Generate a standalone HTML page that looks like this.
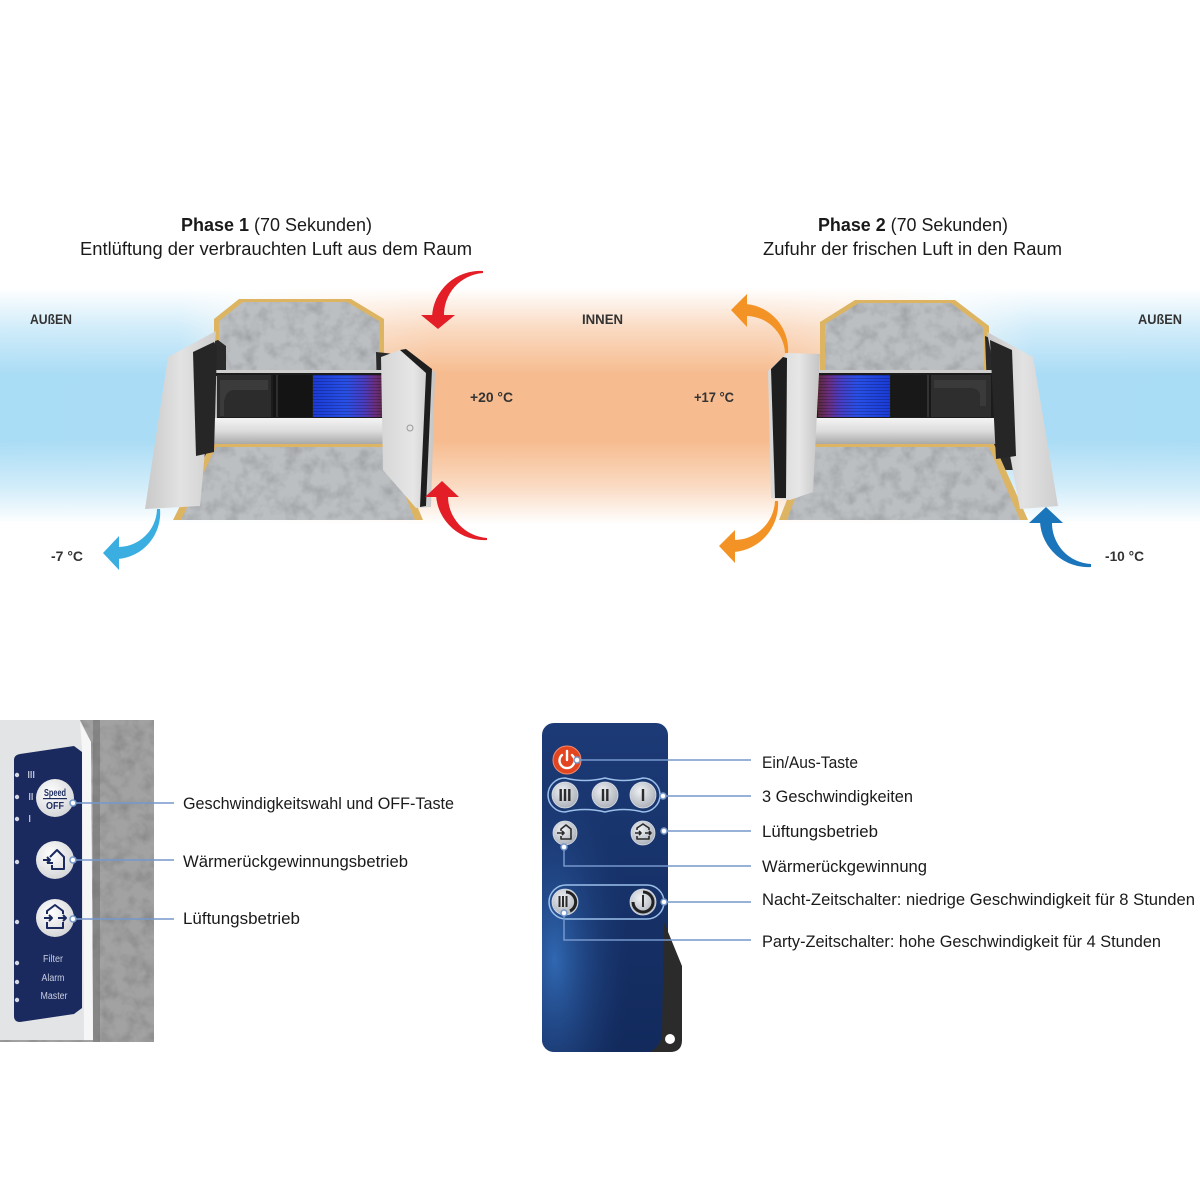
<!DOCTYPE html>
<html><head><meta charset="utf-8"><style>html,body{margin:0;padding:0;background:#fff}svg{display:block}</style></head>
<body>
<svg width="1200" height="1200" viewBox="0 0 1200 1200" xmlns="http://www.w3.org/2000/svg" font-family="'Liberation Sans', sans-serif">
<defs>
 <linearGradient id="bandH" x1="0" y1="0" x2="1200" y2="0" gradientUnits="userSpaceOnUse">
  <stop offset="0" stop-color="#a9dcf5"/>
  <stop offset="0.15" stop-color="#aadcf5"/>
  <stop offset="0.2" stop-color="#d6ebf3"/>
  <stop offset="0.3" stop-color="#f7c9a5"/>
  <stop offset="0.36" stop-color="#f6bb8e"/>
  <stop offset="0.64" stop-color="#f6bb8e"/>
  <stop offset="0.72" stop-color="#f7d0b0"/>
  <stop offset="0.8" stop-color="#d4ebf5"/>
  <stop offset="0.86" stop-color="#aadcf5"/>
  <stop offset="1" stop-color="#a9dcf5"/>
 </linearGradient>
 <linearGradient id="bandV" x1="0" y1="280" x2="0" y2="540" gradientUnits="userSpaceOnUse">
  <stop offset="0" stop-color="#000"/>
  <stop offset="0.03" stop-color="#000"/>
  <stop offset="0.19" stop-color="#8c8c8c"/>
  <stop offset="0.365" stop-color="#fff"/>
  <stop offset="0.615" stop-color="#fff"/>
  <stop offset="0.79" stop-color="#8c8c8c"/>
  <stop offset="0.94" stop-color="#000"/>
  <stop offset="1" stop-color="#000"/>
 </linearGradient>
 <mask id="bandM" maskUnits="userSpaceOnUse" x="0" y="270" width="1200" height="280"><rect x="0" y="280" width="1200" height="260" fill="url(#bandV)"/></mask>
 <filter id="tex" x="0" y="0" width="1" height="1">
  <feTurbulence type="fractalNoise" baseFrequency="0.07" numOctaves="3" seed="5" result="n"/>
  <feColorMatrix in="n" type="matrix" values="0 0 0 0 0  0 0 0 0 0  0 0 0 0 0  0.6 0 0 0 -0.24" result="d"/>
  <feComposite in="d" in2="SourceGraphic" operator="in" result="dd"/>
  <feMerge><feMergeNode in="SourceGraphic"/><feMergeNode in="dd"/></feMerge>
 </filter>
 <linearGradient id="hx1" x1="0" y1="0" x2="1" y2="0">
  <stop offset="0" stop-color="#1a3bd6"/><stop offset="0.45" stop-color="#2850e8"/>
  <stop offset="0.7" stop-color="#4a3cc0"/><stop offset="0.85" stop-color="#6a2e80"/><stop offset="1" stop-color="#5a2a3a"/>
 </linearGradient>
 <linearGradient id="hx2" x1="0" y1="0" x2="1" y2="0">
  <stop offset="0" stop-color="#5a2a3a"/><stop offset="0.15" stop-color="#6a2e80"/>
  <stop offset="0.3" stop-color="#4a3cc0"/><stop offset="0.55" stop-color="#2850e8"/><stop offset="1" stop-color="#1a3bd6"/>
 </linearGradient>
 <pattern id="stripes" width="4" height="3" patternUnits="userSpaceOnUse"><rect width="4" height="1" fill="#000" opacity="0.22"/></pattern>
 <linearGradient id="bar" x1="0" y1="0" x2="0" y2="1">
  <stop offset="0" stop-color="#f4f4f4"/><stop offset="0.5" stop-color="#dcdcdc"/><stop offset="1" stop-color="#a9a9a9"/>
 </linearGradient>
 <linearGradient id="panelL" x1="0" y1="0" x2="1" y2="0">
  <stop offset="0" stop-color="#c9c9c9"/><stop offset="0.5" stop-color="#e2e2e2"/><stop offset="1" stop-color="#cfcfcf"/>
 </linearGradient>
 <linearGradient id="panelR" x1="0" y1="0" x2="1" y2="0">
  <stop offset="0" stop-color="#d6d6d6"/><stop offset="0.6" stop-color="#e6e6e6"/><stop offset="1" stop-color="#c4c4c4"/>
 </linearGradient>
 <linearGradient id="remoteG" x1="0" y1="0" x2="0" y2="1">
  <stop offset="0" stop-color="#1c3a76"/><stop offset="1" stop-color="#122a5c"/>
 </linearGradient>
 <radialGradient id="remoteGlow" cx="0.1" cy="0.72" r="0.6">
  <stop offset="0" stop-color="#3068b2" stop-opacity="1"/><stop offset="1" stop-color="#1a3670" stop-opacity="0"/>
 </radialGradient>
 <radialGradient id="btnG" cx="0.4" cy="0.35" r="0.7">
  <stop offset="0" stop-color="#eef0f3"/><stop offset="1" stop-color="#a9aeb7"/>
 </radialGradient>
 <radialGradient id="wbtn" cx="0.4" cy="0.35" r="0.7">
  <stop offset="0" stop-color="#ffffff"/><stop offset="1" stop-color="#d3d4d7"/>
 </radialGradient>
</defs>

<rect width="1200" height="1200" fill="#fff"/>

<!-- background band -->
<rect x="0" y="280" width="1200" height="260" fill="url(#bandH)" mask="url(#bandM)"/>

<!-- Titles -->
<text x="181" y="231" font-size="18" fill="#1a1a1a" textLength="191" lengthAdjust="spacingAndGlyphs"><tspan font-weight="bold">Phase 1</tspan> (70 Sekunden)</text>
<text x="80" y="255" font-size="18" fill="#1a1a1a" textLength="392" lengthAdjust="spacingAndGlyphs">Entlüftung der verbrauchten Luft aus dem Raum</text>
<text x="818" y="231" font-size="18" fill="#1a1a1a" textLength="190" lengthAdjust="spacingAndGlyphs"><tspan font-weight="bold">Phase 2</tspan> (70 Sekunden)</text>
<text x="763" y="255" font-size="18" fill="#1a1a1a" textLength="299" lengthAdjust="spacingAndGlyphs">Zufuhr der frischen Luft in den Raum</text>

<!-- small labels -->
<g font-size="14" font-weight="bold" fill="#333">
 <text x="30" y="324" textLength="42" lengthAdjust="spacingAndGlyphs">AUßEN</text>
 <text x="582" y="324" textLength="41" lengthAdjust="spacingAndGlyphs">INNEN</text>
 <text x="1138" y="324" textLength="44" lengthAdjust="spacingAndGlyphs">AUßEN</text>
 <text x="470" y="402" textLength="43" lengthAdjust="spacingAndGlyphs">+20 °C</text>
 <text x="694" y="402" textLength="40" lengthAdjust="spacingAndGlyphs">+17 °C</text>
 <text x="51" y="561" textLength="32" lengthAdjust="spacingAndGlyphs">-7 °C</text>
 <text x="1105" y="561" textLength="39" lengthAdjust="spacingAndGlyphs">-10 °C</text>
</g>

<!-- Device 1 -->
<g>
 <polygon points="239,299 351,299 384,319 384,378 214,378 214,319" fill="#dcb462"/>
 <polygon points="243,302 347,302 379,321 379,378 219,378 219,321" fill="#bcbfc2" filter="url(#tex)"/>
 <polygon points="190,350 218,340 226,346 226,470 195,470" fill="#2a2a2a"/>
 <polygon points="376,352 394,354 394,505 380,505" fill="#2a2a2a"/>
 <rect x="203" y="371" width="186" height="49" fill="#1c1c1c"/>
 <rect x="203" y="370" width="186" height="3" fill="#cfcfcf"/>
 <rect x="203" y="376" width="14" height="42" fill="#bdbdbd"/>
 <rect x="217" y="375" width="54" height="42" fill="#2c2c2c"/>
 <path d="M220,380 h48 v10 h-34 q-8,0 -10,12 v14 h-4 z" fill="#3b3b3b"/>
 <rect x="273" y="375" width="39" height="42" fill="#141414"/>
 <rect x="276" y="375" width="2" height="42" fill="#2e2e2e"/>
 <rect x="313" y="375" width="73" height="42" fill="url(#hx1)"/>
 <rect x="313" y="375" width="73" height="42" fill="url(#stripes)"/>
 <rect x="200" y="418" width="196" height="26" rx="3" fill="url(#bar)"/>
 <polygon points="173,520 211,444 391,444 423,520" fill="#dcb462"/>
 <polygon points="181,520 216,447 386,447 415,520" fill="#bcbfc2" filter="url(#tex)"/>
 <polygon points="168,357 216,331 200,506 145,509" fill="url(#panelL)"/>
 <polygon points="193,352 214,342 217,347 214,452 196,456" fill="#262626"/>
 <polygon points="381,357 400,350 435,372 431,507 416,508 383,470" fill="url(#panelR)"/>
 <polygon points="400,350 406,349 432,369 426,506 420,507 426,373" fill="#1e1e1e"/>
 <circle cx="410" cy="428" r="3" fill="none" stroke="#9a9a9a" stroke-width="1"/>
</g>

<!-- Device 2 -->
<g>
 <polygon points="855,300 955,300 989,326 989,378 820,378 820,322" fill="#dcb462"/>
 <polygon points="859,303 951,303 984,328 984,378 825,378 825,324" fill="#bcbfc2" filter="url(#tex)"/>
 <polygon points="985,336 1014,348 1018,470 990,470" fill="#2a2a2a"/>
 <polygon points="803,360 818,360 818,498 803,498" fill="#2a2a2a"/>
 <rect x="812" y="371" width="183" height="49" fill="#1c1c1c"/>
 <rect x="812" y="370" width="183" height="3" fill="#cfcfcf"/>
 <rect x="818" y="375" width="72" height="42" fill="url(#hx2)"/>
 <rect x="818" y="375" width="72" height="42" fill="url(#stripes)"/>
 <rect x="891" y="375" width="40" height="42" fill="#181818"/>
 <rect x="927" y="375" width="2" height="42" fill="#333"/>
 <rect x="931" y="375" width="60" height="42" fill="#2e2e2e"/>
 <path d="M934,380 h52 v26 h-6 v-12 q-2,-6 -10,-6 h-36 z" fill="#3a3a3a"/>
 <rect x="806" y="418" width="192" height="26" rx="3" fill="url(#bar)"/>
 <polygon points="779,520 809,444 994,444 1028,520" fill="#dcb462"/>
 <polygon points="787,520 814,447 989,447 1020,520" fill="#bcbfc2" filter="url(#tex)"/>
 <polygon points="987,332 1033,357 1058,506 1020,509" fill="url(#panelL)"/>
 <polygon points="990,340 1012,350 1016,456 996,459" fill="#262626"/>
 <polygon points="768,371 787,353 820,354 813,492 790,500 771,498" fill="url(#panelR)"/>
 <polygon points="771,369 783,357 787,358 786,498 775,498" fill="#1e1e1e"/>
</g>

<!-- Arrows -->
<g fill="#e41e26">
 <path d="M483,271 A48,48 0 0 0 432,317 L444,317 A42,42 0 0 1 483,273 Z"/>
 <polygon points="421,315 455,315 438,329"/>
 <path d="M487,540 A48,48 0 0 1 436,495 L448,495 A42,42 0 0 0 487,538 Z"/>
 <polygon points="425,497 459,497 442,481"/>
</g>
<g fill="#3aaee0">
 <path d="M160,509 A46,46 0 0 1 118,559 L118,547 A39,39 0 0 0 157,509 Z"/>
 <polygon points="119,536 119,570 103,553"/>
</g>
<g fill="#f39325">
 <path d="M788,353 A46,46 0 0 0 746,304 L746,316 A39,39 0 0 1 785,353 Z"/>
 <polygon points="747,294 747,327 731,310"/>
 <path d="M778,501 A48,48 0 0 1 734,552 L734,540 A41,41 0 0 0 775,501 Z"/>
 <polygon points="735,530 735,563 719,546"/>
</g>
<g fill="#1b75bb">
 <path d="M1091,567 A48,48 0 0 1 1040,522 L1052,522 A41,41 0 0 0 1091,564 Z"/>
 <polygon points="1029,523 1063,523 1046,507"/>
</g>

<!-- Control panel photo -->
<g>
 <rect x="0" y="720" width="154" height="322" fill="#a2a2a2" filter="url(#tex)"/>
 <rect x="93" y="720" width="7" height="322" fill="#6f6f6f" opacity="0.55"/>
 <path d="M0,720 L80,720 L91,742 L93,1040 L0,1040 Z" fill="#e3e4e6"/>
 <path d="M80,722 L91,742 L93,1040 L84,1040 L82,748 Z" fill="#f6f6f6"/>
 <path d="M14,760 Q14,755 20,754 L74,746 L82,752 L82,1008 L74,1014 L20,1022 Q14,1022 14,1016 Z" fill="#1b2a5e"/>
 <g fill="#d5d9e4">
  <circle cx="17" cy="775" r="2.2"/><circle cx="17" cy="797" r="2.2"/><circle cx="17" cy="819" r="2.2"/>
  <circle cx="17" cy="862" r="2.2"/><circle cx="17" cy="922" r="2.2"/>
  <circle cx="17" cy="963" r="2.2"/><circle cx="17" cy="982" r="2.2"/><circle cx="17" cy="1000" r="2.2"/>
 </g>
 <g fill="#b8bdd0">
  <rect x="28" y="771" width="1.3" height="7"/><rect x="30.5" y="771" width="1.3" height="7"/><rect x="33" y="771" width="1.3" height="7"/>
  <rect x="29" y="793" width="1.3" height="7"/><rect x="31.5" y="793" width="1.3" height="7"/>
  <rect x="29" y="815" width="1.3" height="7"/>
 </g>
 <circle cx="55" cy="798" r="19" fill="url(#wbtn)"/>
 <text x="55" y="796" font-size="10" font-weight="bold" fill="#1b2a5e" text-anchor="middle" textLength="22" lengthAdjust="spacingAndGlyphs">Speed</text>
 <rect x="43" y="798" width="24" height="1.2" fill="#1b2a5e"/>
 <text x="55" y="809" font-size="10" font-weight="bold" fill="#1b2a5e" text-anchor="middle" textLength="18" lengthAdjust="spacingAndGlyphs">OFF</text>
 <circle cx="55" cy="860" r="19" fill="url(#wbtn)"/>
 <g fill="none" stroke="#1b2a5e" stroke-width="2" stroke-linejoin="round">
  <path d="M50,857 L57,850 L64,857 V869 H52 V865"/>
  <path d="M43,860 H50 M47,857 L50,860 L47,863 M53,863 H47"/>
 </g>
 <circle cx="55" cy="918" r="19" fill="url(#wbtn)"/>
 <g fill="none" stroke="#1b2a5e" stroke-width="2" stroke-linejoin="round">
  <path d="M47,914 V911 L55,905 L63,911 V914 M47,922 V928 H63 V922"/>
  <path d="M44,918 H52 M49,915 L52,918 L49,921 M58,918 H66 M63,915 L66,918 L63,921"/>
 </g>
 <g fill="#c8cde0" font-size="10" text-anchor="middle">
  <text x="53" y="962" textLength="20" lengthAdjust="spacingAndGlyphs">Filter</text>
  <text x="53" y="981" textLength="23" lengthAdjust="spacingAndGlyphs">Alarm</text>
  <text x="54" y="999" textLength="27" lengthAdjust="spacingAndGlyphs">Master</text>
 </g>
</g>
<g stroke="#7597cc" stroke-width="1.5" fill="none">
 <path d="M73,803 H174 M73,860 H174 M73,919 H174"/>
</g>
<g fill="#fff" stroke="#7597cc" stroke-width="1.5">
 <circle cx="73" cy="803" r="3"/><circle cx="73" cy="860" r="3"/><circle cx="73" cy="919" r="3"/>
</g>
<g font-size="16.5" fill="#1a1a1a">
 <text x="183" y="809" textLength="271" lengthAdjust="spacingAndGlyphs">Geschwindigkeitswahl und OFF-Taste</text>
 <text x="183" y="867" textLength="225" lengthAdjust="spacingAndGlyphs">Wärmerückgewinnungsbetrieb</text>
 <text x="183" y="924" textLength="117" lengthAdjust="spacingAndGlyphs">Lüftungsbetrieb</text>
</g>

<!-- Remote -->
<g>
 <rect x="542" y="723" width="126" height="329" rx="12" fill="url(#remoteG)"/>
 <rect x="542" y="723" width="126" height="329" rx="12" fill="url(#remoteGlow)"/>
 <path d="M664,922 L682,966 L682,1040 Q682,1052 670,1052 L650,1052 Q661,1046 662,1034 Z" fill="#2b2b2b"/>
 <circle cx="670" cy="1039" r="5" fill="#fff"/>

 <circle cx="567" cy="760" r="14" fill="#e2451f" stroke="#f28a6c" stroke-width="1"/>
 <path d="M562,755 A7.5,7.5 0 1 0 572,755" fill="none" stroke="#fff" stroke-width="2.4" stroke-linecap="round"/>
 <path d="M567,751 V760" stroke="#fff" stroke-width="2.4" stroke-linecap="round"/>

 <path d="M565,778 Q585,783 605,778 Q624,783 643,778 A17,17 0 0 1 643,812 Q624,807 605,812 Q585,807 565,812 A17,17 0 0 1 565,778 Z" fill="none" stroke="#9cc0ea" stroke-width="1.5"/>
 <g fill="url(#btnG)" stroke="#d8dde6" stroke-width="0.8">
  <circle cx="565" cy="795" r="13"/><circle cx="605" cy="795" r="13"/><circle cx="643" cy="795" r="13"/>
  <circle cx="565" cy="833" r="12"/><circle cx="643" cy="833" r="12"/>
 </g>
 <g fill="#2b2b2b">
  <rect x="559.5" y="789" width="2.4" height="12"/><rect x="563.8" y="789" width="2.4" height="12"/><rect x="568.1" y="789" width="2.4" height="12"/>
  <rect x="601.8" y="789" width="2.4" height="12"/><rect x="606.1" y="789" width="2.4" height="12"/>
  <rect x="641.8" y="789" width="2.4" height="12"/>
 </g>
 <g fill="none" stroke="#2b2b2b" stroke-width="1.6" stroke-linejoin="round">
  <path d="M561,831 V829 L566,825 L571,829 V839 H561 V836"/>
  <path d="M557,833 H564 M562,831 L564,833 L562,835"/>
  <path d="M637,830 V828 L643,824 L649,828 V830 M637,836 V839 H649 V836"/>
  <path d="M635,833 H641 M639,831 L641,833 L639,835 M645,833 H651 M649,831 L651,833 L649,835"/>
 </g>

 <rect x="549" y="885" width="115" height="34" rx="17" fill="none" stroke="#9cc0ea" stroke-width="1.5"/>
 <g fill="url(#btnG)" stroke="#d8dde6" stroke-width="0.8">
  <circle cx="565" cy="902" r="13"/><circle cx="643" cy="902" r="13"/>
 </g>
 <g fill="#2b2b2b">
  <rect x="558.5" y="896" width="2" height="11"/><rect x="562" y="896" width="2" height="11"/><rect x="565.5" y="896" width="2" height="11"/>
  <rect x="642" y="895" width="2" height="12"/>
 </g>
 <path d="M566,892 A10,10 0 0 1 570,911" fill="none" stroke="#222" stroke-width="3"/>
 <path d="M643,892 A10,10 0 1 1 633,902" fill="none" stroke="#222" stroke-width="3"/>
</g>
<g stroke="#7597cc" stroke-width="1.5" fill="none">
 <path d="M577,760 H751 M663,796 H751 M664,831 H751 M564,847 V866 H751 M664,902 H751 M564,913 V940 H751"/>
</g>
<g fill="#fff" stroke="#7597cc" stroke-width="1.5">
 <circle cx="577" cy="760" r="3"/><circle cx="663" cy="796" r="3"/><circle cx="664" cy="831" r="3"/>
 <circle cx="564" cy="847" r="3"/><circle cx="664" cy="902" r="3"/><circle cx="564" cy="913" r="3"/>
</g>
<g font-size="16.5" fill="#1a1a1a">
 <text x="762" y="768" textLength="96" lengthAdjust="spacingAndGlyphs">Ein/Aus-Taste</text>
 <text x="762" y="802" textLength="151" lengthAdjust="spacingAndGlyphs">3 Geschwindigkeiten</text>
 <text x="762" y="837" textLength="116" lengthAdjust="spacingAndGlyphs">Lüftungsbetrieb</text>
 <text x="762" y="872" textLength="165" lengthAdjust="spacingAndGlyphs">Wärmerückgewinnung</text>
 <text x="762" y="905" textLength="433" lengthAdjust="spacingAndGlyphs">Nacht-Zeitschalter: niedrige  Geschwindigkeit für 8 Stunden</text>
 <text x="762" y="947" textLength="399" lengthAdjust="spacingAndGlyphs">Party-Zeitschalter: hohe Geschwindigkeit für 4 Stunden</text>
</g>
</svg>
</body></html>
